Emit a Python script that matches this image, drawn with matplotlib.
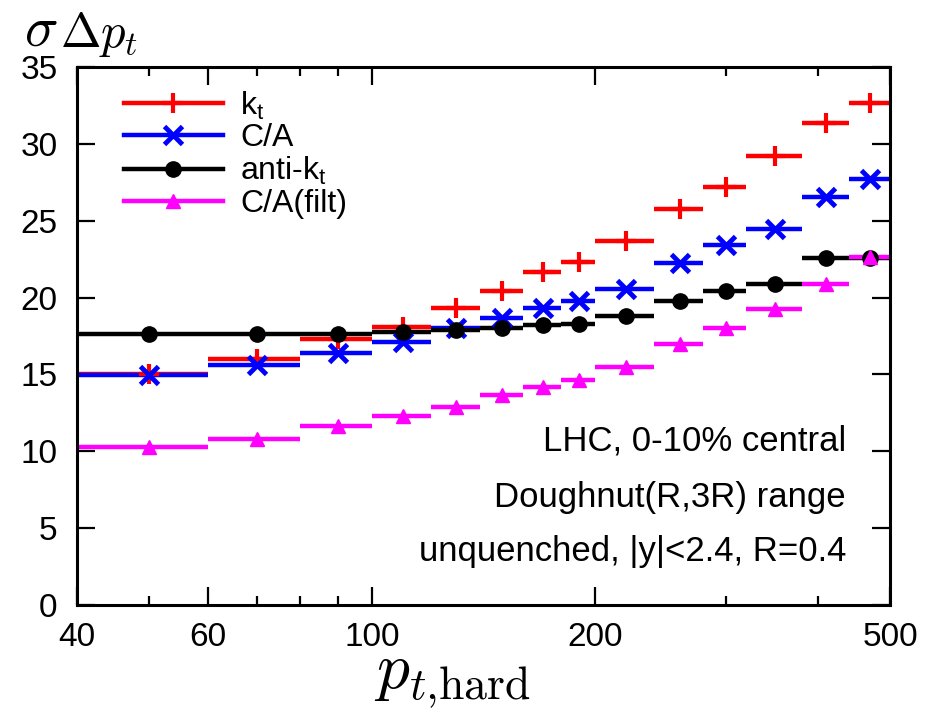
import matplotlib
matplotlib.use("Agg")
import matplotlib.pyplot as plt
from matplotlib.lines import Line2D
from matplotlib.ticker import FixedLocator, NullFormatter
import numpy as np

plt.rcParams['font.family'] = ['Liberation Sans', 'DejaVu Sans']

# bin edges in p_t,hard
bin_lo = [40, 60, 80, 100, 120, 140, 160, 180, 200, 240, 280, 320, 380, 440]
bin_hi = [60, 80, 100, 120, 140, 160, 180, 200, 240, 280, 320, 380, 440, 500]

kt     = [15.05, 16.0, 17.28, 18.1, 19.35, 20.45, 21.64, 22.3, 23.7, 25.79, 27.22, 29.21, 31.34, 32.68]
ca     = [14.94, 15.6, 16.42, 17.1, 18.0, 18.65, 19.35, 19.8, 20.58, 22.23, 23.44, 24.44, 26.57, 27.74]
antikt = [17.63, 17.62, 17.62, 17.78, 17.87, 18.02, 18.2, 18.26, 18.8, 19.76, 20.45, 20.91, 22.6, 22.6]
cafilt = [10.28, 10.82, 11.65, 12.3, 12.9, 13.68, 14.2, 14.64, 15.46, 16.96, 18.0, 19.28, 20.9, 22.62]

labels = ['k$_\\mathregular{t}$', 'C/A', 'anti-k$_\\mathregular{t}$', 'C/A(filt)']
colors = ['#ff0000', '#0000ff', '#000000', '#ff00ff']
markers = ['+', 'x', 'o', '^']
msizes = [15, 13, 11, 10]
mews = [3, 3.5, 1, 1]

xticks_major = [40, 60, 100, 200, 500]
xticks_minor = [50, 70, 80, 90, 300, 400]
yticks = [0, 5, 10, 15, 20, 25, 30, 35]

fig = plt.figure(figsize=(9.26, 7.14), dpi=100)
ax = fig.add_axes([77/926, 1-605/714, (890-77)/926, (605-67)/714])

lo = np.array(bin_lo, float)
hi = np.array(bin_hi, float)
ctr = (lo + hi) / 2

series = [kt, ca, antikt, cafilt]
handles = []
for vals, col, mk, ms, mew, lab in zip(series, colors, markers, msizes, mews, labels):
    v = np.array(vals)
    ax.hlines(v, lo, hi, colors=col, lw=3.2, zorder=2)
    ax.plot(ctr, v, linestyle='none', marker=mk, color=col, ms=ms, mew=mew, zorder=3)
    handles.append(Line2D([0], [0], color=col, lw=3.2, marker=mk, ms=ms, mew=mew, label=lab))

ax.set_xscale('log')
ax.set_xlim(40, 500)
ax.set_ylim(0, 35)
ax.xaxis.set_major_locator(FixedLocator(xticks_major))
ax.xaxis.set_minor_locator(FixedLocator(xticks_minor))
ax.xaxis.set_minor_formatter(NullFormatter())
ax.set_xticklabels([str(t) for t in xticks_major])
ax.set_yticks(yticks)
ax.yaxis.set_minor_locator(FixedLocator([]))

ax.tick_params(which='both', direction='in', top=True, right=True, width=1.6)
ax.tick_params(which='major', length=13)
ax.tick_params(which='minor', length=6.5)
ax.tick_params(axis='x', pad=12, labelsize=24)
ax.tick_params(axis='y', pad=14, labelsize=24)
for s in ax.spines.values():
    s.set_linewidth(2.2)

leg = ax.legend(handles=handles, loc='upper left', bbox_to_anchor=(0.03, 1.0),
                frameon=False, fontsize=23, handlelength=3.1, handletextpad=0.55,
                labelspacing=0.05, borderaxespad=0.3)

txt = dict(fontsize=25, ha='right', va='center')
fig.text(846/926, 1-441/714, 'LHC, 0-10% central', **txt)
fig.text(846/926, 1-497/714, 'Doughnut(R,3R) range', **txt)
fig.text(846/926, 1-551/714, 'unquenched, |y|<2.4, R=0.4', **txt)

fig.text(24/926, 1-6/714, r'$\sigma$', fontsize=40, math_fontfamily='cm',
         ha='left', va='top')
fig.text(60/926, 1-47/714, r'$\Delta p_t$', fontsize=35, math_fontfamily='cm',
         ha='left', va='baseline')
fig.text(452/926, 1-680/714, r'$p_{t{,}\mathrm{hard}}$', fontsize=47, math_fontfamily='cm',
         ha='center', va='center')

fig.savefig('out.png', dpi=100)
